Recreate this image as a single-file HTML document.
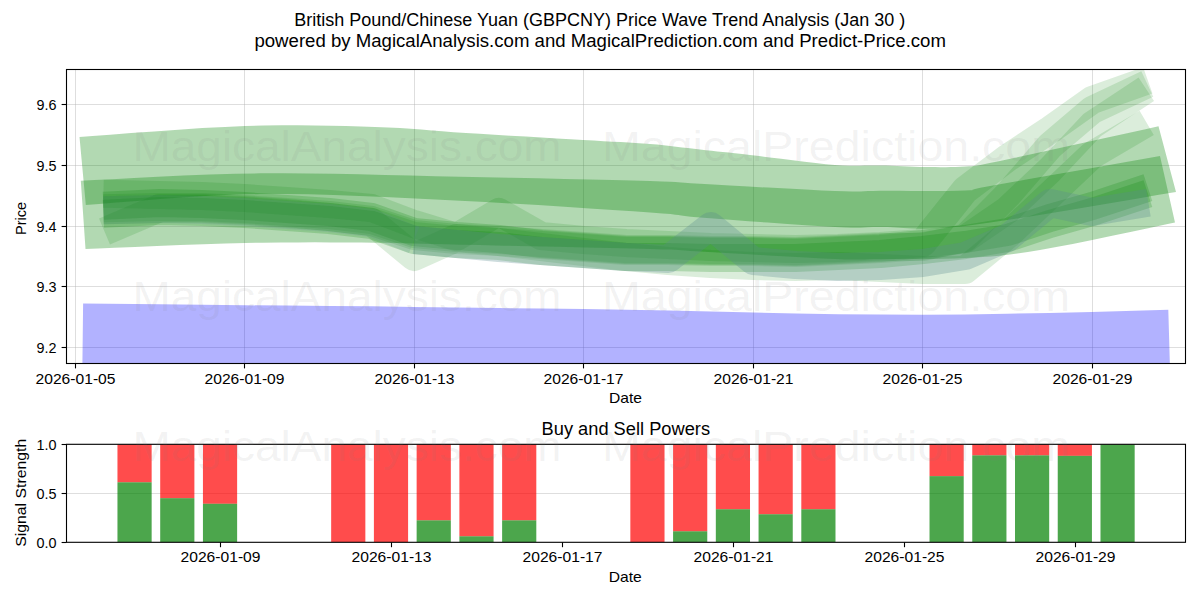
<!DOCTYPE html>
<html><head><meta charset="utf-8"><style>
html,body{margin:0;padding:0;background:#fff;width:1200px;height:600px;overflow:hidden}
svg{display:block;font-family:"Liberation Sans", sans-serif}
</style></head><body><svg width="1200" height="600" viewBox="0 0 1200 600" font-family='"Liberation Sans", sans-serif'><defs><clipPath id="c1"><rect x="66.5" y="69.5" width="1119" height="294"/></clipPath><clipPath id="c2"><rect x="66.5" y="444.3" width="1119" height="98"/></clipPath></defs>
<g clip-path="url(#c1)">
<line x1="75.5" y1="69" x2="75.5" y2="364" stroke="#b0b0b0" stroke-opacity="0.42" stroke-width="1"/>
<line x1="244.5" y1="69" x2="244.5" y2="364" stroke="#b0b0b0" stroke-opacity="0.42" stroke-width="1"/>
<line x1="414.5" y1="69" x2="414.5" y2="364" stroke="#b0b0b0" stroke-opacity="0.42" stroke-width="1"/>
<line x1="583.5" y1="69" x2="583.5" y2="364" stroke="#b0b0b0" stroke-opacity="0.42" stroke-width="1"/>
<line x1="753.5" y1="69" x2="753.5" y2="364" stroke="#b0b0b0" stroke-opacity="0.42" stroke-width="1"/>
<line x1="922.5" y1="69" x2="922.5" y2="364" stroke="#b0b0b0" stroke-opacity="0.42" stroke-width="1"/>
<line x1="1092.5" y1="69" x2="1092.5" y2="364" stroke="#b0b0b0" stroke-opacity="0.42" stroke-width="1"/>
<line x1="66" y1="347.5" x2="1186" y2="347.5" stroke="#b0b0b0" stroke-opacity="0.42" stroke-width="1"/>
<line x1="66" y1="286.5" x2="1186" y2="286.5" stroke="#b0b0b0" stroke-opacity="0.42" stroke-width="1"/>
<line x1="66" y1="226.5" x2="1186" y2="226.5" stroke="#b0b0b0" stroke-opacity="0.42" stroke-width="1"/>
<line x1="66" y1="165.5" x2="1186" y2="165.5" stroke="#b0b0b0" stroke-opacity="0.42" stroke-width="1"/>
<line x1="66" y1="104.5" x2="1186" y2="104.5" stroke="#b0b0b0" stroke-opacity="0.42" stroke-width="1"/>
<polyline points="82.7,338.1 159.7,339.0 202.1,339.5 244.5,340.0 286.9,340.3 329.3,340.6 371.7,341.0 414.1,341.6 456.5,342.2 498.8,342.8 541.2,343.3 583.6,343.8 626.0,344.5 668.4,345.3 710.8,346.2 753.2,347.2 795.5,348.2 837.9,349.0 880.3,349.3 922.7,349.4 965.1,349.2 1007.5,348.5 1049.9,347.6 1092.2,346.7 1169.3,344.5" fill="none" stroke="#0000ff" stroke-opacity="0.300" stroke-width="69.4" stroke-linecap="butt" stroke-linejoin="round"/>
<polygon points="79.5,136.9 92.5,136.0 110.1,134.7 131.0,133.1 154.1,131.4 178.3,129.7 202.2,128.1 224.9,126.9 245.0,126.0 263.2,125.5 280.9,125.3 298.1,125.3 314.7,125.4 330.7,125.7 346.1,126.1 360.9,126.6 375.0,127.0 388.1,127.5 399.9,128.1 410.8,128.8 421.3,129.6 431.7,130.5 442.3,131.3 453.6,132.2 466.0,133.0 479.7,133.8 494.6,134.8 510.2,135.7 526.0,136.6 541.6,137.6 556.7,138.4 570.6,139.3 583.0,140.0 593.9,140.6 603.7,141.2 612.5,141.7 620.7,142.1 628.3,142.5 635.6,143.0 642.8,143.4 650.0,144.0 657.1,144.6 663.7,145.3 670.0,146.0 676.1,146.7 682.0,147.4 687.9,148.1 693.9,148.8 700.0,149.5 706.0,150.2 711.7,150.8 717.2,151.4 722.8,152.0 728.7,152.6 735.0,153.3 742.1,154.1 750.0,155.0 759.2,156.1 769.7,157.4 781.1,158.8 792.8,160.3 804.5,161.8 815.7,163.1 826.0,164.2 835.0,165.0 842.5,165.5 849.1,165.7 854.8,165.8 860.0,165.7 864.9,165.6 869.7,165.4 874.6,165.4 880.0,165.4 885.7,165.6 891.4,165.8 897.1,166.0 902.8,166.3 908.5,166.5 914.1,166.7 919.6,166.9 925.0,167.0 930.3,167.1 935.5,167.1 940.6,167.2 945.6,167.2 950.6,167.1 955.5,167.0 960.3,166.8 965.0,166.5 968.8,166.3 971.2,166.2 973.1,166.1 975.1,165.9 978.0,165.4 982.7,164.5 989.7,163.1 1000.0,161.0 1015.0,157.8 1034.7,153.6 1057.4,148.6 1081.4,143.3 1105.2,138.1 1127.1,133.2 1145.4,129.2 1158.5,126.3 1176.0,192.0 1158.9,194.8 1135.1,198.9 1106.8,203.7 1075.8,208.9 1044.2,214.2 1013.8,219.0 986.8,223.1 965.0,226.0 948.1,227.7 934.0,228.6 922.1,228.8 912.1,228.6 903.4,228.1 895.5,227.6 887.8,227.1 880.0,227.0 873.1,227.1 868.0,227.3 864.2,227.5 860.6,227.7 856.7,227.7 851.6,227.7 844.7,227.5 835.0,227.0 821.9,226.2 805.6,225.2 787.2,223.9 767.8,222.6 748.4,221.2 729.9,219.8 713.4,218.5 700.0,217.5 690.6,216.7 684.8,216.1 681.2,215.6 678.4,215.1 675.3,214.7 670.4,214.1 662.4,213.4 650.0,212.5 633.0,211.3 612.6,209.9 589.4,208.4 564.4,206.8 538.1,205.1 511.5,203.5 485.2,202.1 460.0,200.8 435.3,199.6 410.1,198.3 384.6,197.1 359.0,196.0 333.5,195.0 308.4,194.3 283.8,194.0 260.0,194.0 235.8,194.6 210.6,195.8 185.1,197.3 160.4,199.1 137.2,200.9 116.5,202.6 99.1,204.0 85.8,205.0" fill="#008000" fill-opacity="0.300"/>
<polygon points="80.8,180.8 94.5,180.1 112.5,179.2 134.0,178.1 157.9,176.8 183.4,175.6 209.5,174.6 235.4,173.8 260.0,173.3 284.1,173.2 308.8,173.4 333.9,173.7 359.3,174.3 384.8,174.9 410.2,175.5 435.3,176.2 460.0,176.7 485.2,177.2 511.5,177.7 538.1,178.3 564.4,178.9 589.4,179.5 612.6,180.0 633.0,180.5 650.0,181.0 662.4,181.4 670.4,181.7 675.3,181.9 678.4,182.2 681.2,182.5 684.8,182.8 690.6,183.2 700.0,183.8 713.4,184.5 729.9,185.4 748.4,186.5 767.8,187.6 787.2,188.6 805.6,189.6 821.9,190.4 835.0,191.0 844.7,191.3 851.6,191.5 856.7,191.5 860.6,191.4 864.2,191.2 868.0,191.0 873.1,190.9 880.0,190.8 889.1,190.8 899.8,190.8 911.6,190.9 923.8,190.9 935.8,190.9 947.0,190.9 957.0,190.7 965.0,190.5 970.0,190.3 972.1,190.3 972.4,190.2 972.2,190.1 972.6,189.7 975.0,189.0 980.3,187.8 990.0,186.0 1005.5,183.3 1026.3,179.6 1050.6,175.3 1076.6,170.7 1102.3,166.2 1126.1,162.0 1145.9,158.5 1160.0,156.0 1175.0,222.5 1164.2,224.8 1149.3,227.9 1131.6,231.7 1112.2,235.8 1092.2,239.9 1072.7,243.9 1054.9,247.3 1040.0,250.0 1027.8,252.0 1017.3,253.5 1007.9,254.7 999.4,255.7 991.2,256.4 983.0,256.9 974.4,257.5 965.0,258.0 954.6,258.5 943.5,258.8 932.1,258.9 920.6,259.0 909.4,259.0 898.7,259.0 888.8,259.0 880.0,259.0 873.1,259.1 868.0,259.2 864.2,259.4 860.6,259.5 856.7,259.6 851.6,259.6 844.7,259.4 835.0,259.0 821.9,258.4 805.6,257.5 787.2,256.5 767.8,255.4 748.4,254.3 729.9,253.2 713.4,252.2 700.0,251.5 690.6,251.0 684.8,250.6 681.2,250.3 678.4,250.1 675.3,249.8 670.4,249.6 662.4,249.4 650.0,249.0 632.2,248.5 609.9,248.0 584.4,247.4 557.2,246.8 529.7,246.2 503.4,245.7 479.7,245.1 460.0,244.7 444.7,244.3 432.4,244.0 422.4,243.7 413.8,243.4 405.6,243.2 397.0,243.0 387.1,242.8 375.0,242.7 361.1,242.6 346.4,242.5 330.8,242.4 314.7,242.3 297.9,242.4 280.6,242.5 263.0,242.7 245.0,243.0 225.4,243.5 203.5,244.2 180.3,245.1 157.1,246.0 134.9,246.9 114.9,247.8 98.0,248.5 85.5,249.0" fill="#008000" fill-opacity="0.300"/>
<polyline points="103.4,193.7 159.7,195.0 202.1,196.0 244.5,198.0 286.9,201.0 329.3,204.0 371.7,208.0 414.1,224.0 456.5,237.0 498.8,212.0 541.2,236.0 583.6,240.0 626.0,243.0 668.4,245.0 710.8,247.0 753.2,248.0 795.5,249.0 837.9,248.0 880.3,246.0 922.7,243.0 965.1,190.0 1007.5,158.0 1049.9,130.0 1092.2,100.0 1147.8,80.3" fill="none" stroke="#008000" stroke-opacity="0.140" stroke-width="28.0" stroke-linecap="butt" stroke-linejoin="round"/>
<polyline points="103.4,205.7 159.7,203.0 202.1,204.0 244.5,206.0 286.9,209.0 329.3,212.0 371.7,217.0 414.1,232.0 456.5,236.0 498.8,239.0 541.2,244.0 583.6,247.0 626.0,250.0 668.4,250.0 710.8,251.0 753.2,251.0 795.5,252.0 837.9,250.0 880.3,248.0 922.7,244.0 965.1,239.0 1007.5,232.0 1049.9,218.0 1092.2,206.0 1147.9,187.6" fill="none" stroke="#008000" stroke-opacity="0.200" stroke-width="28.0" stroke-linecap="butt" stroke-linejoin="round"/>
<polyline points="103.4,213.7 159.7,211.0 202.1,212.0 244.5,214.0 286.9,217.0 329.3,220.0 371.7,225.0 414.1,240.0 456.5,244.0 498.8,246.0 541.2,251.0 583.6,254.0 626.0,257.0 668.4,257.0 710.8,258.0 753.2,258.0 795.5,258.0 837.9,256.0 880.3,254.0 922.7,250.0 965.1,245.0 1007.5,238.0 1049.9,224.0 1092.2,212.0 1147.9,193.6" fill="none" stroke="#008000" stroke-opacity="0.200" stroke-width="28.0" stroke-linecap="butt" stroke-linejoin="round"/>
<polyline points="104.5,231.5 159.7,208.0 202.1,208.0 244.5,210.0 286.9,213.0 329.3,217.0 371.7,222.0 414.1,257.0 456.5,238.0 498.8,242.0 541.2,247.0 583.6,252.0 626.0,257.0 668.4,261.0 710.8,264.0 753.2,266.0 795.5,267.0 837.9,266.0 880.3,268.0 922.7,270.0 965.1,270.0 1007.5,235.0 1049.9,195.0 1092.2,155.0 1146.7,122.9" fill="none" stroke="#008000" stroke-opacity="0.140" stroke-width="28.0" stroke-linecap="butt" stroke-linejoin="round"/>
<polyline points="103.4,208.3 159.7,207.0 202.1,207.0 244.5,209.0 286.9,212.0 329.3,215.0 371.7,220.0 414.1,234.0 456.5,238.0 498.8,240.0 541.2,243.0 583.6,246.0 626.0,249.0 668.4,249.0 710.8,250.0 753.2,250.0 795.5,251.0 837.9,249.0 880.3,247.0 922.7,247.0 965.1,238.0 1007.5,195.0 1049.9,146.0 1092.2,110.0 1147.3,84.0" fill="none" stroke="#008000" stroke-opacity="0.140" stroke-width="28.0" stroke-linecap="butt" stroke-linejoin="round"/>
<polyline points="103.4,210.3 159.7,209.0 202.1,209.0 244.5,211.0 286.9,214.0 329.3,217.0 371.7,222.0 414.1,236.0 456.5,240.0 498.8,242.0 541.2,245.0 583.6,248.0 626.0,251.0 668.4,251.0 710.8,252.0 753.2,252.0 795.5,253.0 837.9,251.0 880.3,249.0 922.7,246.0 965.1,239.0 1007.5,210.0 1049.9,170.0 1092.2,125.0 1146.3,89.3" fill="none" stroke="#008000" stroke-opacity="0.140" stroke-width="28.0" stroke-linecap="butt" stroke-linejoin="round"/>
<polyline points="103.4,210.3 159.7,209.0 202.1,210.0 244.5,212.0 286.9,215.0 329.3,218.0 371.7,223.0 414.1,240.0" fill="none" stroke="#5a8a90" stroke-opacity="0.180" stroke-width="28.0" stroke-linecap="butt" stroke-linejoin="round"/>
<polyline points="414.1,240.0 456.5,244.0 498.8,248.0 541.2,251.0 583.6,254.0 626.0,257.0 668.4,259.0 710.8,226.0 753.2,261.0 795.5,265.0 837.9,267.0 880.3,266.0 922.7,263.0 965.1,256.0 1007.5,238.0 1049.9,203.0 1092.2,212.0 1148.4,202.7" fill="none" stroke="#5a8a90" stroke-opacity="0.300" stroke-width="28.0" stroke-linecap="butt" stroke-linejoin="round"/>
</g>
<rect x="66.5" y="69.5" width="1119" height="294" fill="none" stroke="#000" stroke-width="1.1"/>
<line x1="61.6" y1="347.5" x2="66.5" y2="347.5" stroke="#000" stroke-width="1.1"/>
<text x="56.5" y="352.5" font-size="14.50" text-anchor="end" fill="#000" textLength="20.0" lengthAdjust="spacingAndGlyphs" >9.2</text>
<line x1="61.6" y1="286.5" x2="66.5" y2="286.5" stroke="#000" stroke-width="1.1"/>
<text x="56.5" y="291.5" font-size="14.50" text-anchor="end" fill="#000" textLength="20.0" lengthAdjust="spacingAndGlyphs" >9.3</text>
<line x1="61.6" y1="226.5" x2="66.5" y2="226.5" stroke="#000" stroke-width="1.1"/>
<text x="56.5" y="231.5" font-size="14.50" text-anchor="end" fill="#000" textLength="20.0" lengthAdjust="spacingAndGlyphs" >9.4</text>
<line x1="61.6" y1="165.5" x2="66.5" y2="165.5" stroke="#000" stroke-width="1.1"/>
<text x="56.5" y="170.5" font-size="14.50" text-anchor="end" fill="#000" textLength="20.0" lengthAdjust="spacingAndGlyphs" >9.5</text>
<line x1="61.6" y1="104.5" x2="66.5" y2="104.5" stroke="#000" stroke-width="1.1"/>
<text x="56.5" y="109.5" font-size="14.50" text-anchor="end" fill="#000" textLength="20.0" lengthAdjust="spacingAndGlyphs" >9.6</text>
<line x1="75.5" y1="363.5" x2="75.5" y2="368.4" stroke="#000" stroke-width="1.1"/>
<text x="75.5" y="383.8" font-size="14.50" text-anchor="middle" fill="#000" textLength="80.0" lengthAdjust="spacingAndGlyphs" >2026-01-05</text>
<line x1="244.5" y1="363.5" x2="244.5" y2="368.4" stroke="#000" stroke-width="1.1"/>
<text x="244.5" y="383.8" font-size="14.50" text-anchor="middle" fill="#000" textLength="80.0" lengthAdjust="spacingAndGlyphs" >2026-01-09</text>
<line x1="414.5" y1="363.5" x2="414.5" y2="368.4" stroke="#000" stroke-width="1.1"/>
<text x="414.5" y="383.8" font-size="14.50" text-anchor="middle" fill="#000" textLength="80.0" lengthAdjust="spacingAndGlyphs" >2026-01-13</text>
<line x1="583.5" y1="363.5" x2="583.5" y2="368.4" stroke="#000" stroke-width="1.1"/>
<text x="583.5" y="383.8" font-size="14.50" text-anchor="middle" fill="#000" textLength="80.0" lengthAdjust="spacingAndGlyphs" >2026-01-17</text>
<line x1="753.5" y1="363.5" x2="753.5" y2="368.4" stroke="#000" stroke-width="1.1"/>
<text x="753.5" y="383.8" font-size="14.50" text-anchor="middle" fill="#000" textLength="80.0" lengthAdjust="spacingAndGlyphs" >2026-01-21</text>
<line x1="922.5" y1="363.5" x2="922.5" y2="368.4" stroke="#000" stroke-width="1.1"/>
<text x="922.5" y="383.8" font-size="14.50" text-anchor="middle" fill="#000" textLength="80.0" lengthAdjust="spacingAndGlyphs" >2026-01-25</text>
<line x1="1092.5" y1="363.5" x2="1092.5" y2="368.4" stroke="#000" stroke-width="1.1"/>
<text x="1092.5" y="383.8" font-size="14.50" text-anchor="middle" fill="#000" textLength="80.0" lengthAdjust="spacingAndGlyphs" >2026-01-29</text>
<text x="625.5" y="402.5" font-size="14.50" text-anchor="middle" fill="#000" textLength="33.0" lengthAdjust="spacingAndGlyphs" >Date</text>
<text transform="translate(25.8,218.5) rotate(-90)" x="0" y="0" font-size="14.5" text-anchor="middle" textLength="33" lengthAdjust="spacingAndGlyphs">Price</text>
<g clip-path="url(#c2)">
<line x1="66" y1="542.5" x2="1186" y2="542.5" stroke="#b0b0b0" stroke-opacity="0.42" stroke-width="1"/>
<line x1="66" y1="493.5" x2="1186" y2="493.5" stroke="#b0b0b0" stroke-opacity="0.42" stroke-width="1"/>
<line x1="66" y1="444.5" x2="1186" y2="444.5" stroke="#b0b0b0" stroke-opacity="0.42" stroke-width="1"/>
<rect x="117.46" y="444.30" width="34.19" height="38.02" fill="#ff0000" fill-opacity="0.7"/>
<rect x="117.46" y="482.32" width="34.19" height="59.98" fill="#008000" fill-opacity="0.7"/>
<rect x="160.20" y="444.30" width="34.19" height="53.90" fill="#ff0000" fill-opacity="0.7"/>
<rect x="160.20" y="498.20" width="34.19" height="44.10" fill="#008000" fill-opacity="0.7"/>
<rect x="202.94" y="444.30" width="34.19" height="59.49" fill="#ff0000" fill-opacity="0.7"/>
<rect x="202.94" y="503.79" width="34.19" height="38.51" fill="#008000" fill-opacity="0.7"/>
<rect x="331.16" y="444.30" width="34.19" height="98.00" fill="#ff0000" fill-opacity="0.7"/>
<rect x="373.90" y="444.30" width="34.19" height="98.00" fill="#ff0000" fill-opacity="0.7"/>
<rect x="416.64" y="444.30" width="34.19" height="76.05" fill="#ff0000" fill-opacity="0.7"/>
<rect x="416.64" y="520.35" width="34.19" height="21.95" fill="#008000" fill-opacity="0.7"/>
<rect x="459.38" y="444.30" width="34.19" height="92.02" fill="#ff0000" fill-opacity="0.7"/>
<rect x="459.38" y="536.32" width="34.19" height="5.98" fill="#008000" fill-opacity="0.7"/>
<rect x="502.12" y="444.30" width="34.19" height="76.05" fill="#ff0000" fill-opacity="0.7"/>
<rect x="502.12" y="520.35" width="34.19" height="21.95" fill="#008000" fill-opacity="0.7"/>
<rect x="630.34" y="444.30" width="34.19" height="98.00" fill="#ff0000" fill-opacity="0.7"/>
<rect x="673.08" y="444.30" width="34.19" height="87.02" fill="#ff0000" fill-opacity="0.7"/>
<rect x="673.08" y="531.32" width="34.19" height="10.98" fill="#008000" fill-opacity="0.7"/>
<rect x="715.82" y="444.30" width="34.19" height="64.97" fill="#ff0000" fill-opacity="0.7"/>
<rect x="715.82" y="509.27" width="34.19" height="33.03" fill="#008000" fill-opacity="0.7"/>
<rect x="758.56" y="444.30" width="34.19" height="69.97" fill="#ff0000" fill-opacity="0.7"/>
<rect x="758.56" y="514.27" width="34.19" height="28.03" fill="#008000" fill-opacity="0.7"/>
<rect x="801.30" y="444.30" width="34.19" height="64.97" fill="#ff0000" fill-opacity="0.7"/>
<rect x="801.30" y="509.27" width="34.19" height="33.03" fill="#008000" fill-opacity="0.7"/>
<rect x="929.52" y="444.30" width="34.19" height="31.85" fill="#ff0000" fill-opacity="0.7"/>
<rect x="929.52" y="476.15" width="34.19" height="66.15" fill="#008000" fill-opacity="0.7"/>
<rect x="972.26" y="444.30" width="34.19" height="11.07" fill="#ff0000" fill-opacity="0.7"/>
<rect x="972.26" y="455.37" width="34.19" height="86.93" fill="#008000" fill-opacity="0.7"/>
<rect x="1015.00" y="444.30" width="34.19" height="11.07" fill="#ff0000" fill-opacity="0.7"/>
<rect x="1015.00" y="455.37" width="34.19" height="86.93" fill="#008000" fill-opacity="0.7"/>
<rect x="1057.74" y="444.30" width="34.19" height="11.56" fill="#ff0000" fill-opacity="0.7"/>
<rect x="1057.74" y="455.86" width="34.19" height="86.44" fill="#008000" fill-opacity="0.7"/>
<rect x="1100.48" y="444.30" width="34.19" height="0.00" fill="#ff0000" fill-opacity="0.7"/>
<rect x="1100.48" y="444.30" width="34.19" height="98.00" fill="#008000" fill-opacity="0.7"/>
</g>
<rect x="66.5" y="444.3" width="1119" height="98" fill="none" stroke="#000" stroke-width="1.1"/>
<line x1="61.6" y1="542.5" x2="66.5" y2="542.5" stroke="#000" stroke-width="1.1"/>
<text x="56.5" y="547.5" font-size="14.50" text-anchor="end" fill="#000" textLength="20.0" lengthAdjust="spacingAndGlyphs" >0.0</text>
<line x1="61.6" y1="493.5" x2="66.5" y2="493.5" stroke="#000" stroke-width="1.1"/>
<text x="56.5" y="498.5" font-size="14.50" text-anchor="end" fill="#000" textLength="20.0" lengthAdjust="spacingAndGlyphs" >0.5</text>
<line x1="61.6" y1="444.5" x2="66.5" y2="444.5" stroke="#000" stroke-width="1.1"/>
<text x="56.5" y="449.5" font-size="14.50" text-anchor="end" fill="#000" textLength="20.0" lengthAdjust="spacingAndGlyphs" >1.0</text>
<line x1="220.5" y1="542.3" x2="220.5" y2="547.2" stroke="#000" stroke-width="1.1"/>
<text x="220.5" y="562.1" font-size="14.50" text-anchor="middle" fill="#000" textLength="80.0" lengthAdjust="spacingAndGlyphs" >2026-01-09</text>
<line x1="391.5" y1="542.3" x2="391.5" y2="547.2" stroke="#000" stroke-width="1.1"/>
<text x="391.5" y="562.1" font-size="14.50" text-anchor="middle" fill="#000" textLength="80.0" lengthAdjust="spacingAndGlyphs" >2026-01-13</text>
<line x1="562.5" y1="542.3" x2="562.5" y2="547.2" stroke="#000" stroke-width="1.1"/>
<text x="562.5" y="562.1" font-size="14.50" text-anchor="middle" fill="#000" textLength="80.0" lengthAdjust="spacingAndGlyphs" >2026-01-17</text>
<line x1="733.5" y1="542.3" x2="733.5" y2="547.2" stroke="#000" stroke-width="1.1"/>
<text x="733.5" y="562.1" font-size="14.50" text-anchor="middle" fill="#000" textLength="80.0" lengthAdjust="spacingAndGlyphs" >2026-01-21</text>
<line x1="904.5" y1="542.3" x2="904.5" y2="547.2" stroke="#000" stroke-width="1.1"/>
<text x="904.5" y="562.1" font-size="14.50" text-anchor="middle" fill="#000" textLength="80.0" lengthAdjust="spacingAndGlyphs" >2026-01-25</text>
<line x1="1075.5" y1="542.3" x2="1075.5" y2="547.2" stroke="#000" stroke-width="1.1"/>
<text x="1075.5" y="562.1" font-size="14.50" text-anchor="middle" fill="#000" textLength="80.0" lengthAdjust="spacingAndGlyphs" >2026-01-29</text>
<text x="625.3" y="581.7" font-size="14.50" text-anchor="middle" fill="#000" textLength="33.0" lengthAdjust="spacingAndGlyphs" >Date</text>
<text transform="translate(25.8,492.8) rotate(-90)" x="0" y="0" font-size="14.5" text-anchor="middle" textLength="108" lengthAdjust="spacingAndGlyphs">Signal Strength</text>
<text x="625.8" y="435.0" font-size="17.50" text-anchor="middle" fill="#000" textLength="168.5" lengthAdjust="spacingAndGlyphs" >Buy and Sell Powers</text>
<text x="132.5" y="161.0" font-size="42.50" text-anchor="start" fill="#808080" textLength="429.0" lengthAdjust="spacingAndGlyphs" fill-opacity="0.1">MagicalAnalysis.com</text>
<text x="602.0" y="161.0" font-size="42.50" text-anchor="start" fill="#808080" textLength="468.0" lengthAdjust="spacingAndGlyphs" fill-opacity="0.1">MagicalPrediction.com</text>
<text x="132.5" y="311.0" font-size="42.50" text-anchor="start" fill="#808080" textLength="429.0" lengthAdjust="spacingAndGlyphs" fill-opacity="0.1">MagicalAnalysis.com</text>
<text x="602.0" y="311.0" font-size="42.50" text-anchor="start" fill="#808080" textLength="468.0" lengthAdjust="spacingAndGlyphs" fill-opacity="0.1">MagicalPrediction.com</text>
<text x="132.5" y="460.5" font-size="42.50" text-anchor="start" fill="#808080" textLength="429.0" lengthAdjust="spacingAndGlyphs" fill-opacity="0.1">MagicalAnalysis.com</text>
<text x="602.0" y="460.5" font-size="42.50" text-anchor="start" fill="#808080" textLength="468.0" lengthAdjust="spacingAndGlyphs" fill-opacity="0.1">MagicalPrediction.com</text>
<text x="599.8" y="25.8" font-size="17.50" text-anchor="middle" fill="#000" textLength="611.0" lengthAdjust="spacingAndGlyphs" >British Pound/Chinese Yuan (GBPCNY) Price Wave Trend Analysis (Jan 30 )</text>
<text x="600.2" y="46.7" font-size="17.50" text-anchor="middle" fill="#000" textLength="691.5" lengthAdjust="spacingAndGlyphs" >powered by MagicalAnalysis.com and MagicalPrediction.com and Predict-Price.com</text></svg></body></html>
